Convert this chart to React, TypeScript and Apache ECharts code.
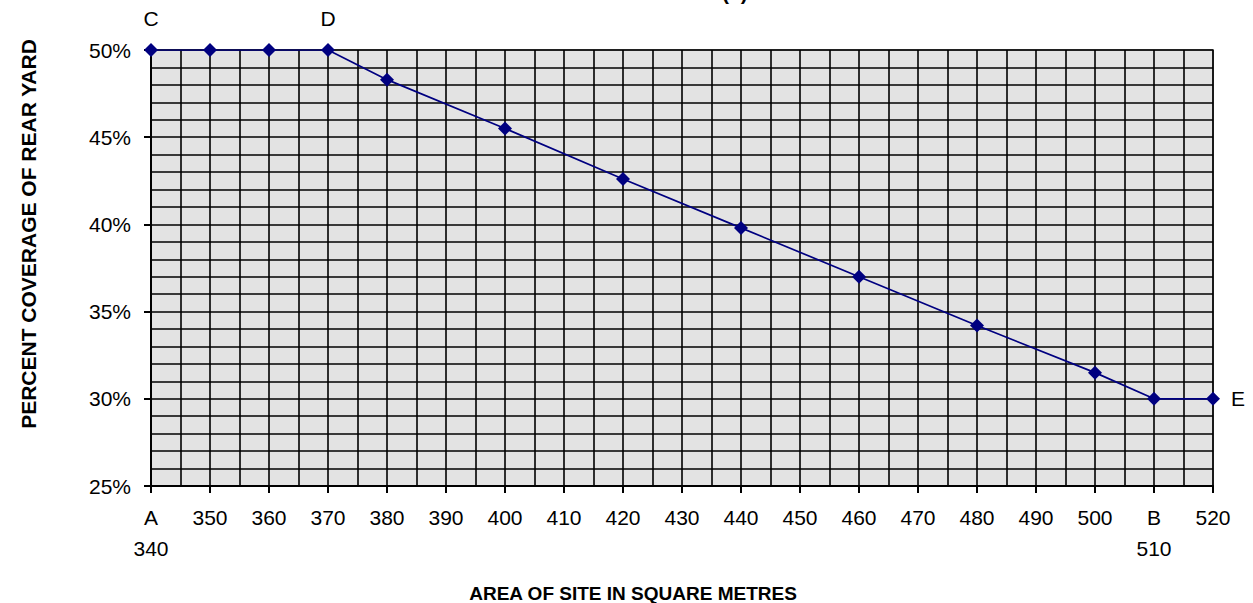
import React, { useEffect, useRef } from "react";
import * as echarts from "echarts";

const FONT = "'Liberation Sans', Arial, sans-serif";

// Site area (m²) of each plotted point
const siteArea = [340, 350, 360, 370, 380, 400, 420, 440, 460, 480, 500, 510, 520];
// Percent coverage of rear yard
const coverage = [50, 50, 50, 50, 48.3, 45.5, 42.6, 39.8, 37.0, 34.2, 31.5, 30, 30];
// Letters beside points
const pointLetters = ["C", "", "", "D", "", "", "", "", "", "", "", "", "E"];
// Letter prefixes for x tick labels
const xTickLetters: Record<number, string> = { 340: "A", 510: "B" };

const yTitle = "PERCENT COVERAGE OF REAR YARD";
const xTitle = "AREA OF SITE IN SQUARE METRES";

export default function App() {
  const ref = useRef<HTMLDivElement>(null);

  useEffect(() => {
    if (!ref.current) return;
    const chart = echarts.init(ref.current, null, { renderer: "svg" });

    const data = siteArea.map((x, i) => {
      const letter = pointLetters[i];
      const item: any = { value: [x, coverage[i]] };
      if (letter) {
        item.label = {
          show: true,
          formatter: letter,
          position: letter === "E" ? "right" : "top",
          distance: letter === "E" ? 11 : 14,
          fontFamily: FONT,
          fontSize: 21,
          color: "#000",
        };
      }
      return item;
    });

    chart.setOption({
      animation: false,
      backgroundColor: "#ffffff",
      grid: {
        left: 151,
        right: 40,
        top: 50,
        bottom: 117,
        show: true,
        backgroundColor: "#e3e3e3",
        borderColor: "#808080",
        borderWidth: 2,
      },
      xAxis: {
        type: "value",
        min: 340,
        max: 520,
        interval: 10,
        axisLine: { show: true, onZero: false, lineStyle: { color: "#000", width: 2 } },
        axisTick: { show: true, length: 7, lineStyle: { color: "#000", width: 2 } },
        minorTick: { show: false, splitNumber: 2 },
        splitLine: { show: true, lineStyle: { color: "#000", width: 1.6 } },
        minorSplitLine: { show: true, lineStyle: { color: "#000", width: 1.6 } },
        axisLabel: {
          margin: 16,
          fontFamily: FONT,
          fontSize: 21,
          color: "#000",
          lineHeight: 31,
          showMaxLabel: true,
          showMinLabel: true,
          formatter: (v: number) =>
            xTickLetters[v] ? `${xTickLetters[v]}\n${v}` : String(v),
        },
      },
      yAxis: {
        type: "value",
        min: 25,
        max: 50,
        interval: 5,
        axisLine: { show: true, lineStyle: { color: "#000", width: 2 } },
        axisTick: { show: true, length: 7, lineStyle: { color: "#000", width: 2 } },
        minorTick: { show: false, splitNumber: 5 },
        splitLine: { show: true, lineStyle: { color: "#000", width: 1.6 } },
        minorSplitLine: { show: true, lineStyle: { color: "#000", width: 1.6 } },
        axisLabel: {
          margin: 20,
          fontFamily: FONT,
          fontSize: 21,
          color: "#000",
          formatter: (v: number) => `${v}%`,
        },
      },
      graphic: [
        {
          type: "text",
          left: 722,
          top: -18,
          style: { text: "(  )", font: `bold 21px ${FONT}`, fill: "#000" },
        },
        {
          type: "text",
          x: 28,
          y: 234,
          rotation: Math.PI / 2,
          style: {
            text: yTitle,
            font: `bold 21px ${FONT}`,
            fill: "#000",
            align: "center",
            verticalAlign: "middle",
          },
        },
        {
          type: "text",
          x: 633,
          y: 593,
          style: {
            text: xTitle,
            font: `bold 19px ${FONT}`,
            fill: "#000",
            align: "center",
            verticalAlign: "middle",
          },
        },
      ],
      series: [
        {
          type: "line",
          data,
          symbol: "diamond",
          symbolSize: 14,
          lineStyle: { color: "#000080", width: 1.7 },
          itemStyle: { color: "#000080" },
          label: { show: false },
          z: 5,
        },
      ],
    });

    return () => chart.dispose();
  }, []);

  return (
    <div
      ref={ref}
      style={{ position: "fixed", left: 0, top: 0, width: 1253, height: 603 }}
    />
  );
}
